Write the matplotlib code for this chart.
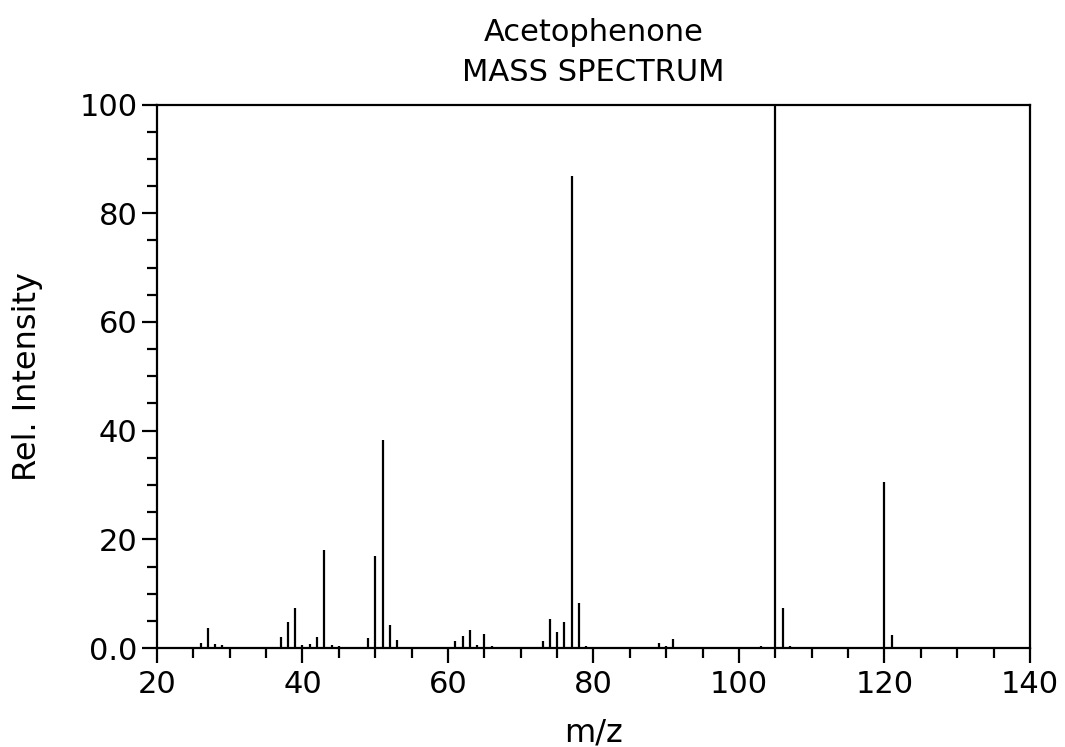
import matplotlib.pyplot as plt
from matplotlib.ticker import MultipleLocator, FixedLocator, FixedFormatter

# 苯乙酮质谱 (m/z, 相对强度)
mz = [26, 27, 28, 29, 37, 38, 39, 40, 41, 42, 43, 44, 45,
      49, 50, 51, 52, 53, 60, 61, 62, 63, 64, 65, 66,
      73, 74, 75, 76, 77, 78, 79, 85, 86, 87, 89, 90, 91,
      103, 105, 106, 107, 120, 121]
intensity = [1.0, 3.7, 0.7, 0.5, 2.0, 4.7, 7.4, 0.5, 0.8, 2.0, 18.0, 0.5, 0.3,
             1.8, 17.0, 38.2, 4.2, 1.5, 0.2, 1.3, 2.2, 3.3, 0.5, 2.5, 0.3,
             1.3, 5.4, 2.9, 4.7, 86.8, 8.3, 0.3, 0.2, 0.2, 0.2, 1.0, 0.3, 1.7,
             0.3, 100.0, 7.4, 0.4, 30.5, 2.4]

yticks = [0, 20, 40, 60, 80, 100]
ytick_labels = ['0.0', '20', '40', '60', '80', '100']

plt.rcParams['font.family'] = 'DejaVu Sans'
fig = plt.figure(figsize=(10.65, 7.47), dpi=100)
ax = fig.add_axes([0.1474, 0.1325, 0.8197, 0.7275])

ax.vlines(mz, 0, intensity, colors='black', linewidth=1.6)

ax.set_xlim(20, 140)
ax.set_ylim(0, 100)
ax.xaxis.set_major_locator(MultipleLocator(20))
ax.xaxis.set_minor_locator(MultipleLocator(5))
ax.yaxis.set_major_locator(FixedLocator(yticks))
ax.yaxis.set_major_formatter(FixedFormatter(ytick_labels))
ax.yaxis.set_minor_locator(MultipleLocator(5))
ax.tick_params(which='major', length=11, width=1.6, labelsize=22, pad=3, direction='out')
ax.tick_params(axis='x', which='major', pad=5)
ax.tick_params(which='minor', length=7, width=1.6, direction='out')
for s in ax.spines.values():
    s.set_linewidth(1.6)

ax.set_xlabel('m/z', fontsize=23, labelpad=13)
ax.set_ylabel('Rel. Intensity', fontsize=23, labelpad=26)
fig.text(0.557, 0.956, 'Acetophenone', fontsize=22, ha='center', va='center')
fig.text(0.557, 0.903, 'MASS SPECTRUM', fontsize=22, ha='center', va='center')

fig.savefig('out.png', dpi=100)
